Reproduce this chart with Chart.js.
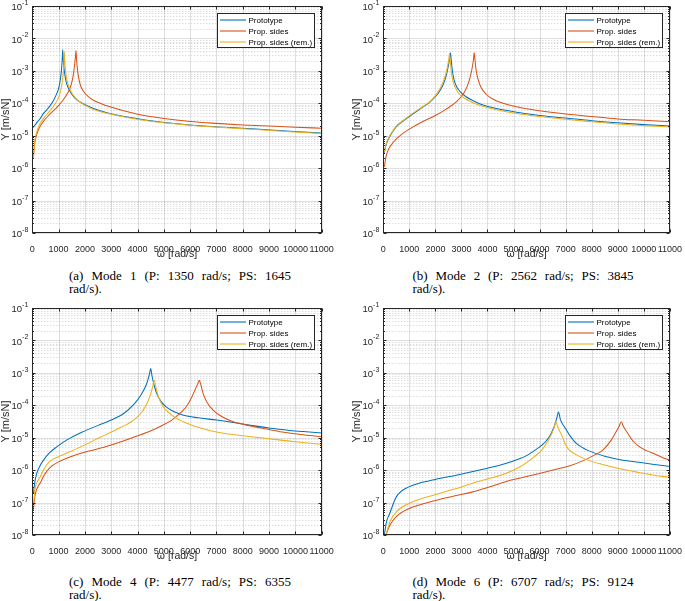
<!DOCTYPE html>
<html>
<head>
<meta charset="utf-8">
<script src="https://cdn.jsdelivr.net/npm/chart.js@4.4.1/dist/chart.umd.min.js"></script>
<style>
html,body{margin:0;padding:0;background:#fff;}
#wrap{position:relative;width:685px;height:601px;overflow:hidden;background:#fff;}
canvas{position:absolute;}
.cap{position:absolute;font-family:'Liberation Serif','Times New Roman',serif;font-size:13px;line-height:13px;color:#000;}
.cap .l1{text-align:justify;text-align-last:justify;}
</style>
</head>
<body>
<div id="wrap">
<canvas id="ca" width="340" height="262" style="left:0;top:0"></canvas>
<canvas id="cb" width="334" height="262" style="left:351px;top:0"></canvas>
<canvas id="cc" width="340" height="262" style="left:0;top:301.5px"></canvas>
<canvas id="cd" width="334" height="262" style="left:351px;top:301.5px"></canvas>
</div>
<script>
// ---------- data ----------
const seriesLabels = ['Prototype', 'Prop. sides', 'Prop. sides (rem.)'];
const seriesColors = ['#0072BD', '#D95319', '#EDB120'];
const xTickValues = [0,1000,2000,3000,4000,5000,6000,7000,8000,9000,10000,11000];
const yDecades = [-8,-7,-6,-5,-4,-3,-2,-1];
const captions = [
  ['(a) Mode 1 (P: 1350 rad/s; PS: 1645', 'rad/s).'],
  ['(b) Mode 2 (P: 2562 rad/s; PS: 3845', 'rad/s).'],
  ['(c) Mode 4 (P: 4477 rad/s; PS: 6355', 'rad/s).'],
  ['(d) Mode 6 (P: 6707 rad/s; PS: 9124', 'rad/s).']
];

// (a) Mode 1
const aProtoW = [40,150,300,420,550,680,800,900,990,1050,1100,1130,1148,1155,1170,1200,1250,1300,1400,1600,1900,2300,2800,3500,4500,5500,6500,7500,8500,9500,10500,11000];
const aProtoY = [1.8e-5,2.4e-5,3.4e-5,4.8e-5,6.3e-5,8.5e-5,1.2e-4,1.75e-4,2.7e-4,4.5e-4,9e-4,1.8e-3,3.3e-3,4.5e-3,2.6e-3,1.3e-3,6.5e-4,4.2e-4,2.6e-4,1.5e-4,1.0e-4,7.0e-5,5.2e-5,3.9e-5,2.9e-5,2.35e-5,2.0e-5,1.78e-5,1.6e-5,1.42e-5,1.27e-5,1.2e-5];
const aSidesW = [40,80,130,230,400,650,900,1150,1350,1480,1560,1610,1645,1660,1675,1700,1750,1820,1950,2150,2400,2800,3300,4000,5000,6000,7000,8000,9000,10000,11000];
const aSidesY = [2.0e-6,5.0e-6,8.5e-6,1.5e-5,2.6e-5,4.5e-5,7.0e-5,1.2e-4,2.1e-4,3.8e-4,7.5e-4,1.6e-3,3.0e-3,4.2e-3,2.8e-3,1.5e-3,7.0e-4,3.8e-4,2.3e-4,1.55e-4,1.15e-4,8.5e-5,6.4e-5,4.6e-5,3.4e-5,2.75e-5,2.4e-5,2.15e-5,1.98e-5,1.83e-5,1.7e-5];
const aRemW = [40,80,130,200,300,450,650,800,950,1050,1120,1170,1200,1215,1230,1260,1310,1400,1550,1800,2200,2800,3500,4500,5500,6500,7500,8500,9500,10500,11000];
const aRemY = [2.0e-6,5.5e-6,1.0e-5,1.6e-5,2.4e-5,3.6e-5,5.6e-5,8.0e-5,1.25e-4,2.0e-4,3.6e-4,7.5e-4,1.6e-3,4.0e-3,2.3e-3,1.1e-3,5.5e-4,3.1e-4,1.8e-4,1.1e-4,7.2e-5,5.0e-5,3.8e-5,2.8e-5,2.3e-5,1.95e-5,1.74e-5,1.55e-5,1.38e-5,1.23e-5,1.16e-5];

// (b) Mode 2
const bProtoW = [40,100,200,350,500,800,1100,1500,1800,2100,2300,2430,2510,2555,2577,2600,2640,2700,2800,2950,3150,3450,3800,4300,5000,6000,7000,8000,9000,10000,11000];
const bProtoY = [3.0e-6,5.0e-6,8.0e-6,1.3e-5,1.9e-5,3.0e-5,4.5e-5,7.5e-5,1.1e-4,2.0e-4,3.8e-4,8.0e-4,1.6e-3,2.6e-3,3.6e-3,2.5e-3,1.2e-3,6.0e-4,3.4e-4,2.3e-4,1.65e-4,1.2e-4,9.0e-5,7.0e-5,5.5e-5,4.2e-5,3.5e-5,2.9e-5,2.5e-5,2.2e-5,2.0e-5];
const bSidesW = [40,100,200,400,700,1000,1500,2000,2400,2800,3100,3280,3400,3460,3490,3515,3560,3640,3760,3950,4200,4600,5200,6000,7000,8000,9000,10000,11000];
const bSidesY = [1.1e-6,2.2e-6,3.8e-6,6.5e-6,1.1e-5,1.6e-5,2.7e-5,4.2e-5,6.5e-5,1.1e-4,2.1e-4,4.5e-4,1.1e-3,2.2e-3,3.6e-3,2.4e-3,1.1e-3,5.5e-4,3.0e-4,1.9e-4,1.35e-4,1.0e-4,7.5e-5,5.9e-5,4.7e-5,3.9e-5,3.3e-5,3.0e-5,2.7e-5];
const bRemW = [40,100,200,350,500,800,1100,1500,1800,2080,2270,2400,2480,2520,2540,2562,2600,2660,2760,2900,3100,3400,3800,4300,5000,6000,7000,8000,9000,10000,11000];
const bRemY = [3.2e-6,5.3e-6,8.5e-6,1.35e-5,2.0e-5,3.1e-5,4.7e-5,7.8e-5,1.15e-4,2.1e-4,4.0e-4,8.0e-4,1.6e-3,2.5e-3,3.5e-3,2.4e-3,1.1e-3,5.5e-4,3.1e-4,2.0e-4,1.45e-4,1.08e-4,8.2e-5,6.4e-5,5.0e-5,3.9e-5,3.2e-5,2.7e-5,2.3e-5,2.05e-5,1.85e-5];

// (c) Mode 4
const cProtoW = [40,100,170,300,420,650,930,1300,1900,2500,3000,3500,3850,4150,4350,4450,4500,4550,4650,4750,4900,5100,5400,5750,6300,7000,7700,8300,9000,9700,10300,11000];
const cProtoY = [1.9e-7,4.5e-7,8.0e-7,1.4e-6,2.0e-6,3.4e-6,5.2e-6,8.4e-6,1.5e-5,2.4e-5,3.5e-5,5.8e-5,1.05e-4,2.2e-4,4.7e-4,9.0e-4,1.35e-3,8.0e-4,3.6e-4,2.1e-4,1.3e-4,8.8e-5,6.3e-5,4.9e-5,4.1e-5,3.5e-5,2.9e-5,2.4e-5,2.0e-5,1.7e-5,1.55e-5,1.4e-5];
const cSidesW = [40,100,170,300,450,670,1000,1400,1950,2600,3200,3800,4400,4900,5300,5600,5850,6050,6200,6300,6347,6400,6500,6650,6880,7200,7640,8200,8900,9500,10200,11000];
const cSidesY = [6e-8,1.6e-7,2.6e-7,4.0e-7,7.0e-7,1.2e-6,1.8e-6,2.5e-6,3.5e-6,4.8e-6,6.8e-6,1.0e-5,1.5e-5,2.3e-5,3.5e-5,5.5e-5,9.0e-5,1.7e-4,3.2e-4,4.8e-4,5.9e-4,4.5e-4,2.2e-4,1.2e-4,7.0e-5,4.5e-5,3.1e-5,2.4e-5,1.85e-5,1.5e-5,1.25e-5,1.07e-5];
const cRemW = [40,100,200,300,450,670,1000,1300,1900,2600,3200,3850,4150,4350,4480,4570,4637,4680,4750,4850,4980,5110,5400,5870,6400,7000,8000,8900,10000,11000];
const cRemY = [7.4e-8,2.6e-7,4.5e-7,6.2e-7,1.1e-6,1.9e-6,2.6e-6,3.3e-6,5.5e-6,1.05e-5,1.8e-5,3.5e-5,6.0e-5,1.1e-4,2.0e-4,3.6e-4,5.9e-4,4.2e-4,2.4e-4,1.4e-4,9.0e-5,6.8e-5,4.3e-5,2.8e-5,2.0e-5,1.5e-5,1.15e-5,9.5e-6,7.5e-6,6.3e-6];

// (d) Mode 6
const dProtoW = [40,120,250,500,1000,1500,2150,2800,3400,4000,4700,5200,5500,5800,6100,6350,6550,6660,6726,6800,6980,7150,7350,7600,7870,8500,9100,9800,10400,11000];
const dProtoY = [1.0e-8,2.5e-8,4.7e-8,1.5e-7,3.1e-7,4.2e-7,5.5e-7,7.0e-7,8.9e-7,1.15e-6,1.6e-6,2.2e-6,2.8e-6,4.0e-6,6.0e-6,1.0e-5,2.1e-5,4.0e-5,6.2e-5,3.6e-5,2.0e-5,1.2e-5,7.5e-6,5.2e-6,4.0e-6,2.7e-6,2.1e-6,1.75e-6,1.5e-6,1.3e-6];
const dSidesW = [100,250,500,1000,1500,2150,2800,3400,4000,4700,5300,6000,6600,7200,7700,8100,8440,8750,8900,9050,9136,9220,9390,9550,9800,10100,10400,10700,11000];
const dSidesY = [1.0e-8,2.0e-8,3.7e-8,6.6e-8,9.0e-8,1.25e-7,1.65e-7,2.1e-7,2.9e-7,4.4e-7,5.8e-7,7.9e-7,1.05e-6,1.4e-6,2.0e-6,2.9e-6,4.2e-6,8.4e-6,1.35e-5,2.2e-5,3.1e-5,2.2e-5,1.35e-5,8.5e-6,5.5e-6,4.0e-6,3.2e-6,2.5e-6,2.0e-6];
const dRemW = [100,250,500,1000,1500,2150,2800,3400,4000,4700,5200,5500,5800,6090,6300,6470,6570,6624,6700,6850,6980,7100,7400,7870,8500,9100,9800,10400,11000];
const dRemY = [1.0e-8,2.5e-8,5.2e-8,9.5e-8,1.35e-7,1.9e-7,2.7e-7,3.9e-7,5.3e-7,7.9e-7,1.2e-6,1.7e-6,2.6e-6,4.2e-6,7.5e-6,1.35e-5,2.2e-5,3.1e-5,2.1e-5,1.2e-5,6.5e-6,4.5e-6,3.0e-6,2.0e-6,1.45e-6,1.1e-6,8.5e-7,7.0e-7,6.0e-7];

// ---------- drawing ----------
const SANS = "'Liberation Sans', Arial, Helvetica, sans-serif";
const pts = (w, v) => w.map((x, i) => ({x: x, y: v[i]}));

const framePlugin = {
  id: 'frame',
  beforeDatasetsDraw(chart) {
    const {ctx, chartArea: a, scales: {x, y}} = chart;
    ctx.save();
    ctx.lineWidth = 1;
    ctx.setLineDash([1, 2]);
    ctx.strokeStyle = 'rgba(38,38,38,0.22)';
    for (const e of yDecades) {
      if (e === -1) continue;
      for (let m = 2; m <= 9; m++) {
        const py = Math.round(y.getPixelForValue(m * Math.pow(10, e))) + 0.5;
        ctx.beginPath(); ctx.moveTo(a.left, py); ctx.lineTo(a.right, py); ctx.stroke();
      }
    }
    ctx.setLineDash([]);
    ctx.strokeStyle = 'rgba(38,38,38,0.15)';
    for (const e of yDecades) {
      const py = Math.round(y.getPixelForValue(Math.pow(10, e))) + 0.5;
      ctx.beginPath(); ctx.moveTo(a.left, py); ctx.lineTo(a.right, py); ctx.stroke();
    }
    for (const v of xTickValues) {
      const px = Math.round(x.getPixelForValue(v)) + 0.5;
      ctx.beginPath(); ctx.moveTo(px, a.top); ctx.lineTo(px, a.bottom); ctx.stroke();
    }
    ctx.restore();
  },
  afterDatasetsDraw(chart) {
    const {ctx, chartArea: a, scales: {x, y}} = chart;
    ctx.save();
    const L = Math.round(a.left) + 0.5, R = Math.round(a.right) - 0.5;
    const T = Math.round(a.top) + 0.5, B = Math.round(a.bottom) - 0.5;
    ctx.strokeStyle = '#262626';
    ctx.lineWidth = 1;
    ctx.strokeRect(L, T, R - L, B - T);
    ctx.beginPath();
    for (const v of xTickValues) {
      const px = Math.round(x.getPixelForValue(v)) + 0.5;
      ctx.moveTo(px, B); ctx.lineTo(px, B - 3);
      ctx.moveTo(px, T); ctx.lineTo(px, T + 3);
    }
    for (const e of yDecades) {
      const py = Math.round(y.getPixelForValue(Math.pow(10, e))) + 0.5;
      ctx.moveTo(L, py); ctx.lineTo(L + 3, py);
      ctx.moveTo(R, py); ctx.lineTo(R - 3, py);
      if (e === -1) continue;
      for (let m = 2; m <= 9; m++) {
        const q = Math.round(y.getPixelForValue(m * Math.pow(10, e))) + 0.5;
        ctx.moveTo(L, q); ctx.lineTo(L + 1.5, q);
        ctx.moveTo(R, q); ctx.lineTo(R - 1.5, q);
      }
    }
    ctx.stroke();
    ctx.fillStyle = '#262626';
    for (const e of yDecades) {
      const py = y.getPixelForValue(Math.pow(10, e));
      const sup = '-' + Math.abs(e);
      ctx.font = '7px ' + SANS;
      const ws = ctx.measureText(sup).width;
      const xe = a.left - 4;
      ctx.textAlign = 'left'; ctx.textBaseline = 'middle';
      ctx.fillText(sup, xe - ws, py - 3);
      ctx.font = '9.5px ' + SANS;
      ctx.textAlign = 'right';
      ctx.fillText('10', xe - ws, py + 1.5);
    }
    ctx.font = '10.5px ' + SANS;
    ctx.textAlign = 'center'; ctx.textBaseline = 'middle';
    ctx.fillText('\u03C9 [rad/s]', (a.left + a.right) / 2, a.bottom + 21);
    ctx.save();
    ctx.translate(a.left - 26, (a.top + a.bottom) / 2);
    ctx.rotate(-Math.PI / 2);
    ctx.font = '11px ' + SANS;
    ctx.fillText('Y [m/sN]', 0, 0);
    ctx.restore();
    const lw = 97, lh = 34;
    const lx = Math.round(a.right - 8 - lw) + 0.5, ly = Math.round(a.top + 7) + 0.5;
    ctx.fillStyle = '#fff';
    ctx.fillRect(lx, ly, lw, lh);
    ctx.strokeStyle = '#262626';
    ctx.lineWidth = 1;
    ctx.strokeRect(lx, ly, lw, lh);
    ctx.font = '8px ' + SANS;
    ctx.textAlign = 'left'; ctx.textBaseline = 'middle';
    chart.data.datasets.forEach((ds, i) => {
      const yy = ly + 6.5 + i * 11;
      ctx.strokeStyle = ds.borderColor;
      ctx.lineWidth = 1.1;
      ctx.beginPath(); ctx.moveTo(lx + 2.5, yy); ctx.lineTo(lx + 28.5, yy); ctx.stroke();
      ctx.fillStyle = '#000';
      ctx.fillText(ds.label, lx + 31, yy + 0.5);
    });
    ctx.restore();
  }
};

function makeChart(id, padRight, series) {
  const datasets = series.map((s, i) => ({
    label: seriesLabels[i],
    data: pts(s[0], s[1]),
    borderColor: seriesColors[i],
    backgroundColor: seriesColors[i],
    borderWidth: 1.05,
    pointRadius: 0,
    cubicInterpolationMode: 'monotone',
    fill: false,
    order: 3 - i
  }));
  return new Chart(document.getElementById(id), {
    type: 'line',
    data: {datasets: datasets},
    options: {
      responsive: false,
      animation: false,
      devicePixelRatio: 1,
      layout: {padding: {left: 0, right: padRight, top: 6, bottom: 0}},
      plugins: {legend: {display: false}, tooltip: {enabled: false}},
      scales: {
        x: {
          type: 'linear', min: 0, max: 11000,
          grid: {display: false}, border: {display: false},
          afterBuildTicks(s) { s.ticks = xTickValues.map(v => ({value: v})); },
          ticks: {autoSkip: false, maxRotation: 0, padding: 3, color: '#262626',
                  font: {family: SANS, size: 9}, callback: v => String(v)},
          afterFit(s) { s.height = 29; }
        },
        y: {
          type: 'logarithmic', min: 1e-8, max: 1e-1,
          grid: {display: false}, border: {display: false},
          ticks: {display: false},
          afterFit(s) { s.width = 32.3; }
        }
      }
    },
    plugins: [framePlugin]
  });
}

makeChart('ca', 18.3, [[aProtoW, aProtoY], [aSidesW, aSidesY], [aRemW, aRemY]]);
makeChart('cb', 12.7, [[bProtoW, bProtoY], [bSidesW, bSidesY], [bRemW, bRemY]]);
makeChart('cc', 18.3, [[cProtoW, cProtoY], [cSidesW, cSidesY], [cRemW, cRemY]]);
makeChart('cd', 12.7, [[dProtoW, dProtoY], [dSidesW, dSidesY], [dRemW, dRemY]]);

const capPos = [[69, 268.5, 222], [412.5, 268.5, 221], [69, 575, 222], [412.5, 575, 221]];
const wrap = document.getElementById('wrap');
captions.forEach((c, i) => {
  const d = document.createElement('div');
  d.className = 'cap';
  d.style.left = capPos[i][0] + 'px';
  d.style.top = capPos[i][1] + 'px';
  d.style.width = capPos[i][2] + 'px';
  const l1 = document.createElement('div'); l1.className = 'l1'; l1.textContent = c[0];
  const l2 = document.createElement('div'); l2.textContent = c[1];
  d.appendChild(l1); d.appendChild(l2);
  wrap.appendChild(d);
});
</script>
</body>
</html>
